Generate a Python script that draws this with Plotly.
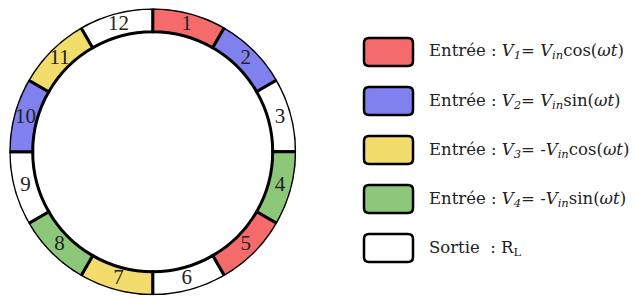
import plotly.graph_objects as go

# ---- data ----
segment_labels = ["1", "2", "3", "4", "5", "6", "7", "8", "9", "10", "11", "12"]
segment_roles = ["V1", "V2", "RL", "V4", "V1", "RL", "V3", "V4", "RL", "V2", "V3", "RL"]
segment_size = [1] * 12  # equal sectors

role_colors = {
    "V1": "#F56B6B",
    "V2": "#8080EE",
    "V3": "#F2DC6B",
    "V4": "#8DC87A",
    "RL": "#FFFFFF",
}
legend_roles = ["V1", "V2", "V3", "V4", "RL"]
legend_texts = [
    "Entrée : <i>V</i><sub><i>1</i></sub>= <i>V</i><sub><i>in</i></sub>cos(<i>ωt</i>)",
    "Entrée : <i>V</i><sub><i>2</i></sub>= <i>V</i><sub><i>in</i></sub>sin(<i>ωt</i>)",
    "Entrée : <i>V</i><sub><i>3</i></sub>= -<i>V</i><sub><i>in</i></sub>cos(<i>ωt</i>)",
    "Entrée : <i>V</i><sub><i>4</i></sub>= -<i>V</i><sub><i>in</i></sub>sin(<i>ωt</i>)",
    "Sortie  : R<sub>L</sub>",
]

# ---- layout constants ----
W, H = 635, 298
R_OUT, R_IN = 143.5, 120.0
CX, CY = 152.7, 151.7  # pixel centre (from top)
FONT_NUM = "Liberation Serif"
FONT_LEG = "DejaVu Serif"

n = len(segment_size)
total = sum(segment_size)
widths = [360 * s / total for s in segment_size]
thetas = []
acc = 0
for w in widths:
    thetas.append(acc + w / 2)
    acc += w

colors = [role_colors[r] for r in segment_roles]

fig = go.Figure()
fig.add_trace(go.Barpolar(
    r=[R_OUT - R_IN] * n,
    base=[R_IN] * n,
    theta=thetas,
    width=widths,
    marker=dict(color=colors, line=dict(color="black", width=3)),
    showlegend=False,
    hoverinfo="skip",
))
fig.add_trace(go.Scatterpolar(
    r=[(R_OUT + R_IN) / 2] * n,
    theta=thetas,
    text=segment_labels,
    mode="text",
    textfont=dict(family=FONT_NUM, size=21, color="#222222"),
    showlegend=False,
    hoverinfo="skip",
))

fig.update_layout(
    width=W, height=H,
    margin=dict(l=0, r=0, t=0, b=0),
    paper_bgcolor="white",
    plot_bgcolor="white",
    polar=dict(
        domain=dict(
            x=[(CX - R_OUT) / W, (CX + R_OUT) / W],
            y=[(H - CY - R_OUT) / H, (H - CY + R_OUT) / H],
        ),
        bgcolor="white",
        radialaxis=dict(visible=False, range=[0, R_OUT], showgrid=False),
        angularaxis=dict(visible=False, direction="clockwise", rotation=90, showgrid=False),
        bargap=0,
    ),
)

# ---- manual legend ----
BX0, BX1 = 364, 413
BH = 28
Y0, DY = 52, 49
RAD = 5


def px(x):
    return x / W


def py(y):
    return 1 - y / H


shapes = []
annotations = []
for i, (role, txt) in enumerate(zip(legend_roles, legend_texts)):
    yc = Y0 + i * DY
    y_top, y_bot = yc - BH / 2, yc + BH / 2
    path = (
        f"M {px(BX0 + RAD)},{py(y_top)} L {px(BX1 - RAD)},{py(y_top)} "
        f"Q {px(BX1)},{py(y_top)} {px(BX1)},{py(y_top + RAD)} "
        f"L {px(BX1)},{py(y_bot - RAD)} Q {px(BX1)},{py(y_bot)} {px(BX1 - RAD)},{py(y_bot)} "
        f"L {px(BX0 + RAD)},{py(y_bot)} Q {px(BX0)},{py(y_bot)} {px(BX0)},{py(y_bot - RAD)} "
        f"L {px(BX0)},{py(y_top + RAD)} Q {px(BX0)},{py(y_top)} {px(BX0 + RAD)},{py(y_top)} Z"
    )
    shapes.append(dict(type="path", xref="paper", yref="paper", path=path,
                       fillcolor=role_colors[role], line=dict(color="black", width=2.5)))
    annotations.append(dict(x=px(427), y=py(yc), xref="paper", yref="paper",
                            xanchor="left", yanchor="middle", showarrow=False,
                            text=txt, font=dict(family=FONT_LEG, size=16.5, color="#222222")))

fig.update_layout(shapes=shapes, annotations=annotations)
fig.write_html("out.html", config={"displayModeBar": False},
               post_script="document.body.style.margin='0px';")
